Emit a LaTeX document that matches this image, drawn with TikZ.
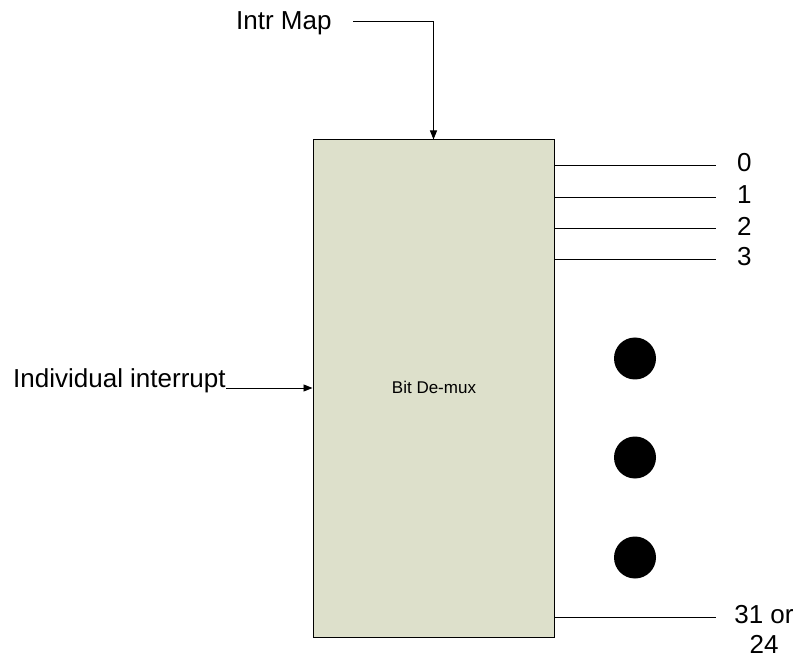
\documentclass[tikz,border=0pt]{standalone}
\usepackage{fontspec}
\setmainfont{Liberation Sans}
\usetikzlibrary{arrows.meta,positioning}
\definecolor{demuxfill}{RGB}{221,224,203}

\begin{document}
\begin{tikzpicture}[
		x=1pt, y=-1pt,
		every node/.style={inner sep=0pt, font=\fontsize{26}{30}\selectfont},
		demux/.style={draw, fill=demuxfill, line width=1pt, minimum width=241pt, minimum height=497pt},
		wire/.style={draw, line width=0.8pt},
		arr/.style={wire, -{Triangle[length=9pt, width=7pt]}},
		dot/.style={circle, fill=black, minimum size=42pt}
		]
		\useasboundingbox (0,0) rectangle (801,660);
		
		\node[demux] (demux) at (433.5,388.5) {};
		\node[anchor=base, font=\fontsize{17}{20}\selectfont] (label) at (434,393) {Bit De-mux};
		
		% inputs
		\node[anchor=base west] (intr) at (236,30) {Intr Map};
		\coordinate (intrA) at (353,21);
		\draw[arr] (intrA) -| (demux.north);
		
		\node[anchor=base west] (indiv) at (13,388) {Individual interrupt};
		\draw[arr] (indiv.base east) -- (indiv.base east -| demux.west);
		
		% outputs
		\foreach \y/\t in {165/0, 197/1, 228/2, 259/3} {
			\node[anchor=west] (out\t) at (737,\y-2) {\t};
			\coordinate (end\t) at (716,\y);
			\draw[wire] (demux.east |- end\t) -- (end\t);
		}
		\node[anchor=north, align=center] (outlast) at (764,605) {31 or\\24};
		\coordinate (endlast) at (716,617);
		\draw[wire] (demux.east |- endlast) -- (endlast);
		
		% dots
		\foreach \y [count=\i] in {358.5, 457.5, 557.5}
			\node[dot] (dot\i) at (635,\y) {};
		
	\end{tikzpicture}
\end{document}
